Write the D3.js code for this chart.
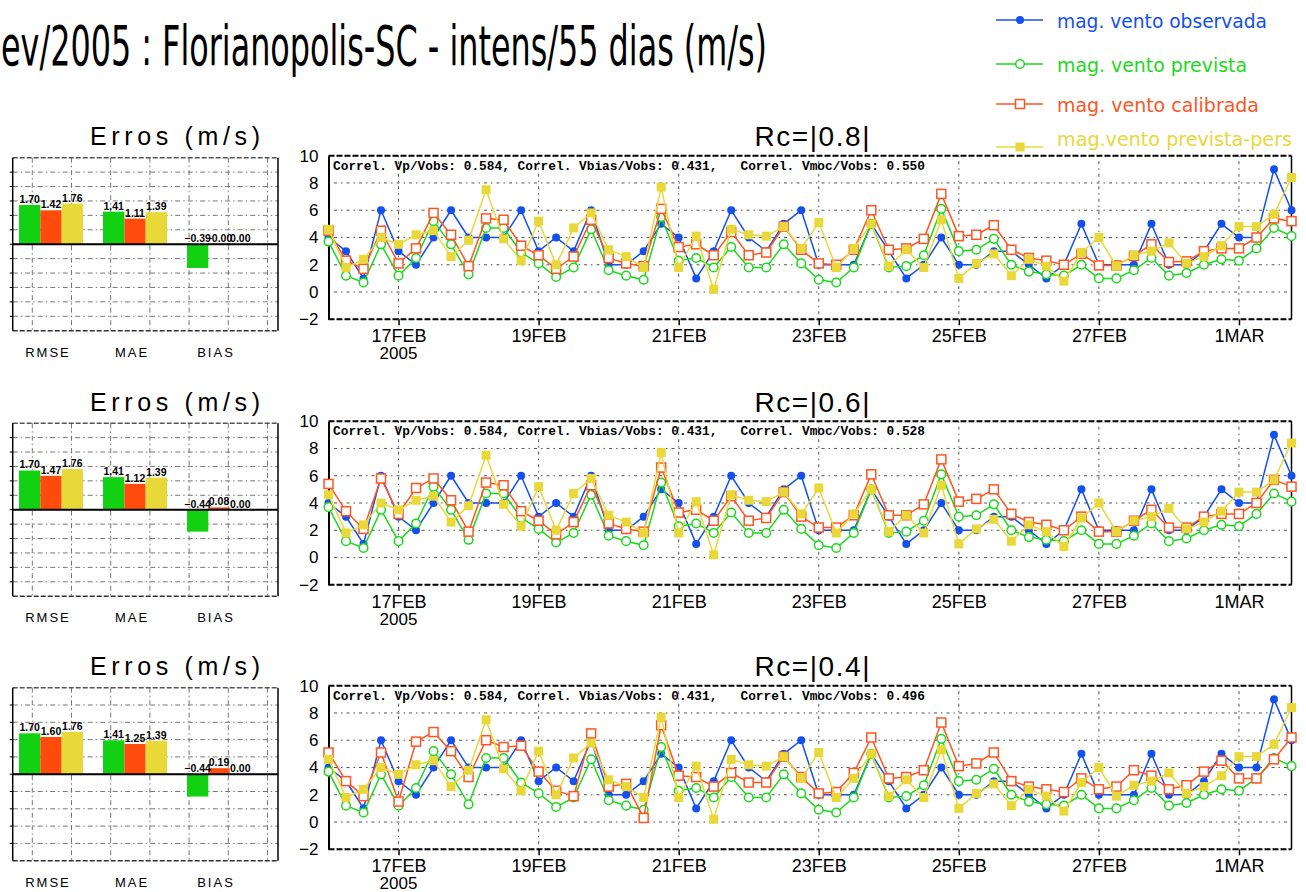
<!DOCTYPE html>
<html>
<head>
<meta charset="utf-8">
<script src="https://cdn.jsdelivr.net/npm/d3@7"></script>
<style>
  body { margin: 0; background: #fff; }
  svg { display: block; }
</style>
</head>
<body>
<div id="chart"></div>
<script>
// ---- data ----
var titleText = "ev/2005 : Florianopolis-SC - intens/55 dias (m/s)";
var startTime = Date.UTC(2005, 1, 16, 0);   // 16FEB2005 00Z, one value every 6 h
var obs  = [4,3,1,6,3,2,4,6,4,4,4,6,3,4,3,6,2,2,3,5,4,1,3,6,4,3,5,6,2,2,2,5,3,1,2,4,2,2,3,3,2,1,2,5,2,2,2,5,2,2,3,5,4,4,9,6];
var prev = [3.7,1.2,0.7,3.5,1.2,2.5,5.2,3.5,1.3,4.7,4.7,2.9,2.1,1.1,1.8,4.6,1.6,1.2,0.9,5.5,2.3,2.5,1.8,3.3,1.8,1.8,3.5,2.1,0.9,0.7,1.8,5.0,1.8,1.9,2.7,6.1,3.0,3.1,3.9,2.0,1.5,1.3,1.2,2.0,1.0,1.0,1.6,2.5,1.2,1.4,2.0,2.4,2.3,3.2,4.7,4.1];
var pers = [4.6,1.8,2.4,4.0,3.5,4.2,4.5,2.6,3.8,7.5,3.9,2.3,5.2,2.0,4.7,5.8,3.1,2.6,1.8,7.7,1.8,4.1,0.2,4.6,4.2,4.1,4.8,3.2,5.1,1.8,3.2,5.0,1.9,3.1,1.8,5.3,1.0,2.1,2.8,1.2,2.4,1.9,0.8,2.9,4.0,1.9,2.7,3.0,3.6,2.1,2.6,3.4,4.8,4.8,5.7,8.4];
var cal08 = [4.5,2.3,1.7,4.5,2.1,3.2,5.8,4.2,1.9,5.4,5.3,3.4,2.7,1.7,2.6,5.3,2.5,2.1,1.9,6.1,3.3,3.5,2.7,4.4,2.7,2.9,4.8,3.1,2.1,2.0,3.1,6.0,3.1,3.2,3.9,7.2,4.1,4.2,4.9,3.1,2.5,2.3,2.0,2.8,1.95,1.95,2.65,3.5,2.2,2.25,3.0,3.2,3.2,4.0,5.4,5.2];
var cal06 = [5.4,3.4,2.1,5.8,3.2,5.1,5.8,4.2,1.9,5.5,5.3,3.4,2.7,1.7,2.6,5.3,2.5,2.1,1.9,6.6,3.3,3.5,2.7,4.5,2.7,2.9,4.8,3.0,2.2,2.2,3.1,6.1,3.1,3.1,3.9,7.2,4.1,4.3,5.0,3.2,2.6,2.4,2.0,3.0,1.9,1.9,2.7,3.5,2.2,2.2,3.0,3.2,3.2,4.0,5.7,5.2];
var cal04 = [5.1,3.0,1.9,5.1,1.5,5.9,6.6,5.2,3.3,6.0,5.5,5.6,3.7,2.3,1.9,6.5,2.6,2.8,0.3,7.1,3.4,3.3,2.6,3.6,2.9,2.9,4.8,3.3,2.1,2.2,3.6,6.2,3.2,3.3,3.8,7.3,4.1,4.3,5.1,3.0,2.6,2.4,2.2,3.2,2.4,2.6,3.8,3.4,2.4,2.7,3.7,4.5,3.2,3.2,4.6,6.2];

var rcLabels = ["0.8", "0.6", "0.4"];
var correlVp = "0.584", correlVbias = "0.431";
var correlVmoc = ["0.550", "0.528", "0.496"];
var yTicks = [-2, 0, 2, 4, 6, 8, 10];

var barCategories = ["RMSE", "MAE", "BIAS"];
// bar heights as drawn (prevista, calibrada, persist.) for each Rc panel
var bars08 = [[1.70, 1.47, 1.76], [1.41, 1.11, 1.39], [-1.03, 0.03, 0.0]];
var bars06 = [[1.70, 1.47, 1.76], [1.41, 1.12, 1.39], [-0.95, 0.10, 0.0]];
var bars04 = [[1.70, 1.55, 1.76], [1.41, 1.26, 1.39], [-0.93, 0.25, 0.0]];
var barText08 = [["1.70", "1.42", "1.76"], ["1.41", "1.11", "1.39"], ["\u22120.39", "\u22120.00", "0.00"]];
var barText06 = [["1.70", "1.47", "1.76"], ["1.41", "1.12", "1.39"], ["\u22120.44", "0.08", "0.00"]];
var barText04 = [["1.70", "1.60", "1.76"], ["1.41", "1.25", "1.39"], ["\u22120.44", "0.19", "0.00"]];
var barLimits = [3.75, 3.75, 3.6];
var barDivisions = [12, 12, 10];

var legendNames = ["mag. vento observada", "mag. vento prevista", "mag. vento calibrada", "mag.vento prevista-pers"];

// ---- styles ----
var colBlue = "#1450ee", colGreen = "#1ed81e", colRed = "#ff5522", colYellow = "#e8d83a";
var barColors = ["#12d012", "#ff4c0c", "#e8d838"];
var W = 1306, H = 892;
var panelOffsets = [0, 265.5, 530];

var svg = d3.select("#chart").append("svg")
	.attr("width", W)
	.attr("height", H)
	.style("font-family", "'Liberation Sans', Arial, sans-serif");

svg.append("rect").attr("width", W).attr("height", H).attr("fill", "#fff");

// Title (cut off at the left as in the original)
svg.append("text")
	.attr("x", 1)
	.attr("y", 65)
	.attr("font-size", 56)
	.attr("font-family", "'Liberation Sans Narrow', 'DejaVu Sans Condensed', sans-serif")
	.attr("textLength", 766)
	.attr("lengthAdjust", "spacingAndGlyphs")
	.attr("fill", "#000")
	.text(titleText);

function drawMarker(g, type, cx, cy, color) {
	if (type === "dot") {
		g.append("circle").attr("cx", cx).attr("cy", cy).attr("r", 4).attr("fill", color);
	} else if (type === "circle") {
		g.append("circle").attr("cx", cx).attr("cy", cy).attr("r", 4.3)
			.attr("fill", "#fff").attr("stroke", color).attr("stroke-width", 1.5);
	} else if (type === "square") {
		g.append("rect").attr("x", cx - 4.5).attr("y", cy - 4.5).attr("width", 9).attr("height", 9)
			.attr("fill", "#fff").attr("stroke", color).attr("stroke-width", 1.5);
	} else {
		g.append("rect").attr("x", cx - 4.5).attr("y", cy - 4.5).attr("width", 9).attr("height", 9)
			.attr("fill", color);
	}
}

// Legend
var legendItems = [
	{ name: legendNames[0], color: colBlue, marker: "dot", ly: 20, ty: 28, tw: 210 },
	{ name: legendNames[1], color: colGreen, marker: "circle", ly: 64, ty: 72, tw: 190 },
	{ name: legendNames[2], color: colRed, marker: "square", ly: 104, ty: 112, tw: 202 },
	{ name: legendNames[3], color: colYellow, marker: "fsquare", ly: 147, ty: 146, tw: 235 }
];
var legend = svg.append("g");
legendItems.forEach(function(d) {
	legend.append("line").attr("x1", 996).attr("x2", 1043).attr("y1", d.ly).attr("y2", d.ly)
		.attr("stroke", d.color).attr("stroke-width", 1.5);
	drawMarker(legend, d.marker, 1020, d.ly, d.color);
	legend.append("text")
		.attr("x", 1057).attr("y", d.ty)
		.attr("font-size", 20)
		.attr("font-family", "'Liberation Sans Narrow', 'DejaVu Sans Condensed', sans-serif")
		.attr("textLength", d.tw).attr("lengthAdjust", "spacingAndGlyphs")
		.attr("fill", d.color)
		.text(d.name);
});

var times = obs.map(function(_, i) { return new Date(startTime + i * 6 * 3600 * 1000); });
var dayTicks = d3.utcDay.every(2).range(times[0], times[times.length - 1]).filter(function(t) { return t > times[0]; });
var monthName = ["JAN","FEB","MAR","APR","MAY","JUN","JUL","AUG","SEP","OCT","NOV","DEC"];
function tickLabel(t) { return t.getUTCDate() + monthName[t.getUTCMonth()]; }

function lineChart(g, cal, p) {
	var x = d3.scaleUtc().domain(d3.extent(times)).range([328.5, 1291.5]);
	var y = d3.scaleLinear().domain([-2, 10]).range([319.3, 155.7]);
	var x0 = x.range()[0], x1 = x.range()[1];

	// grid
	g.selectAll("line.hgrid").data([0, 2, 4, 6, 8]).enter().append("line")
		.attr("x1", x0).attr("x2", x1)
		.attr("y1", function(d) { return y(d); }).attr("y2", function(d) { return y(d); })
		.attr("stroke", "#555").attr("stroke-width", 1).attr("stroke-dasharray", "1.5,4,3,4");
	g.selectAll("line.vgrid").data(dayTicks).enter().append("line")
		.attr("x1", function(d) { return x(d); }).attr("x2", function(d) { return x(d); })
		.attr("y1", y(10)).attr("y2", y(-2))
		.attr("stroke", "#555").attr("stroke-width", 1).attr("stroke-dasharray", "1.5,4,3,4");

	// frame
	g.append("line").attr("x1", x0).attr("x2", x1).attr("y1", y(10)).attr("y2", y(10))
		.attr("stroke", "#000").attr("stroke-width", 2).attr("stroke-dasharray", "6,2");
	g.append("line").attr("x1", x0).attr("x2", x1).attr("y1", y(-2)).attr("y2", y(-2))
		.attr("stroke", "#000").attr("stroke-width", 2).attr("stroke-dasharray", "6,2");
	g.append("line").attr("x1", x1).attr("x2", x1).attr("y1", y(10)).attr("y2", y(-2))
		.attr("stroke", "#000").attr("stroke-width", 1.5);

	// axes
	var ya = g.append("g").attr("transform", "translate(" + x0 + ",0)")
		.call(d3.axisLeft(y).tickValues(yTicks).tickSize(0).tickPadding(10));
	ya.select(".domain").attr("stroke", "#000").attr("stroke-width", 2);
	ya.selectAll("text").attr("font-size", 17).attr("fill", "#000");

	var xa = g.append("g").attr("transform", "translate(0," + y(-2) + ")")
		.call(d3.axisBottom(x).tickValues(dayTicks).tickFormat(tickLabel).tickSize(6).tickPadding(4));
	xa.select(".domain").remove();
	xa.selectAll(".tick line").attr("stroke", "#000").attr("stroke-width", 1.5);
	xa.selectAll("text").attr("font-size", 18).attr("fill", "#000");
	g.append("text").attr("x", x(dayTicks[0])).attr("y", y(-2) + 40)
		.attr("text-anchor", "middle").attr("font-size", 17).text(times[0].getUTCFullYear());

	// correlation text
	g.append("text")
		.attr("x", 333).attr("y", 169.5)
		.attr("font-family", "'Liberation Mono', 'DejaVu Sans Mono', monospace")
		.attr("font-size", 12).attr("font-weight", "bold")
		.attr("textLength", 592).attr("lengthAdjust", "spacingAndGlyphs")
		.style("white-space", "pre")
		.text("Correl. Vp/Vobs: " + correlVp + ", Correl. Vbias/Vobs: " + correlVbias + ",   Correl. Vmoc/Vobs: " + correlVmoc[p]);

	// panel title
	g.append("text").attr("x", 812).attr("y", 146)
		.attr("text-anchor", "middle").attr("font-size", 28)
		.attr("textLength", 115).attr("lengthAdjust", "spacing")
		.text("Rc=|" + rcLabels[p] + "|");

	// series
	var series = [
		{ v: obs, color: colBlue, marker: "dot" },
		{ v: prev, color: colGreen, marker: "circle" },
		{ v: cal, color: colRed, marker: "square" },
		{ v: pers, color: colYellow, marker: "fsquare" }
	];
	var line = d3.line().x(function(d, i) { return x(times[i]); }).y(function(d) { return y(d); });
	series.forEach(function(s) {
		var sg = g.append("g");
		sg.append("path").datum(s.v).attr("d", line)
			.attr("fill", "none").attr("stroke", s.color).attr("stroke-width", 1.5);
		s.v.forEach(function(d, i) { drawMarker(sg, s.marker, x(times[i]), y(d), s.color); });
	});
}

function barChart(g, vals, texts, p) {
	var lim = barLimits[p], nDiv = barDivisions[p];
	var left = 12.7, right = 278, top = 157.7, bottom = 330.7;
	var y = d3.scaleLinear().domain([-lim, lim]).range([bottom, top]);
	var xb = d3.scaleBand().domain(barCategories).range([9, 261]).paddingInner(0.238).paddingOuter(0.119);
	var xs = d3.scaleBand().domain([0, 1, 2]).range([0, xb.bandwidth()]);

	var step = 2 * lim / nDiv;
	var hLines = d3.range(1, nDiv).map(function(k) { return -lim + k * step; });

	g.selectAll("line.bh").data(hLines).enter().append("line")
		.attr("x1", left).attr("x2", right)
		.attr("y1", function(d) { return y(d); }).attr("y2", function(d) { return y(d); })
		.attr("stroke", "#777").attr("stroke-width", 1).attr("stroke-dasharray", "5,3,1.5,3");
	g.selectAll("line.bh-tick").data(hLines).enter().append("line")
		.attr("x1", left - 3).attr("x2", left)
		.attr("y1", function(d) { return y(d); }).attr("y2", function(d) { return y(d); })
		.attr("stroke", "#000").attr("stroke-width", 1);
	g.selectAll("line.bv").data(d3.range(7)).enter().append("line")
		.attr("x1", function(k) { return 32.3 + 39.2 * k; }).attr("x2", function(k) { return 32.3 + 39.2 * k; })
		.attr("y1", top).attr("y2", bottom)
		.attr("stroke", "#777").attr("stroke-width", 1).attr("stroke-dasharray", "5,3,1.5,3");

	// frame
	g.append("line").attr("x1", left).attr("x2", right).attr("y1", top).attr("y2", top)
		.attr("stroke", "#555").attr("stroke-width", 1.5).attr("stroke-dasharray", "5,2");
	g.append("line").attr("x1", left).attr("x2", right).attr("y1", bottom).attr("y2", bottom)
		.attr("stroke", "#333").attr("stroke-width", 1.5).attr("stroke-dasharray", "5,2");
	g.append("line").attr("x1", left).attr("x2", left).attr("y1", top).attr("y2", bottom)
		.attr("stroke", "#000").attr("stroke-width", 1.5);
	g.append("line").attr("x1", right).attr("x2", right).attr("y1", top).attr("y2", bottom)
		.attr("stroke", "#000").attr("stroke-width", 1.5);

	// bars
	barCategories.forEach(function(c, ci) {
		vals[ci].forEach(function(v, si) {
			var bx = xb(c) + xs(si);
			g.append("rect")
				.attr("x", bx).attr("width", xs.bandwidth())
				.attr("y", Math.min(y(v), y(0)))
				.attr("height", Math.max(Math.abs(y(v) - y(0)), v !== 0 ? 1.5 : 0))
				.attr("fill", barColors[si]);
		});
	});
	g.append("line").attr("x1", left).attr("x2", right).attr("y1", y(0)).attr("y2", y(0))
		.attr("stroke", "#000").attr("stroke-width", 2);

	barCategories.forEach(function(c, ci) {
		vals[ci].forEach(function(v, si) {
			var bx = xb(c) + xs(si) + xs.bandwidth() / 2;
			g.append("text")
				.attr("x", bx).attr("y", Math.min(y(v), y(0)) - 2)
				.attr("text-anchor", "middle")
				.attr("font-size", 10.5).attr("font-weight", "bold")
				.text(texts[ci][si]);
		});
		g.append("text")
			.attr("x", xb(c) + xb.bandwidth() / 2 - 3).attr("y", 356.5)
			.attr("text-anchor", "middle").attr("font-size", 13)
			.attr("letter-spacing", 2)
			.text(c);
	});

	g.append("text").attr("x", 175).attr("y", 145)
		.attr("text-anchor", "middle").attr("font-size", 25)
		.attr("textLength", 170).attr("lengthAdjust", "spacing")
		.text("Erros (m/s)");
}

var cals = [cal08, cal06, cal04];
var barVals = [bars08, bars06, bars04];
var barTexts = [barText08, barText06, barText04];

for (var p = 0; p < 3; p++) {
	var g = svg.append("g").attr("transform", "translate(0," + panelOffsets[p] + ")");
	barChart(g, barVals[p], barTexts[p], p);
	lineChart(g, cals[p], p);
}
</script>
</body>
</html>
